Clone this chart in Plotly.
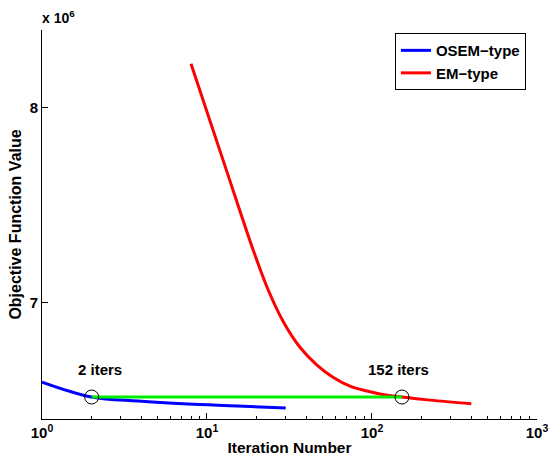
import plotly.graph_objects as go

# Data (objective values in units of 1e6)
osem_iter = [1, 2, 3.82, 7.67, 15.4, 30]
osem_val = [6.59, 6.513, 6.492, 6.477, 6.467, 6.456]

em_iter = [8, 13.2, 19, 23.4, 28.9, 36.6, 46.4, 58, 73.6, 93.3, 116.6, 152, 225, 400]
em_val = [8.226, 7.672, 7.272, 7.067, 6.903, 6.769, 6.677, 6.615, 6.569, 6.544, 6.526, 6.513, 6.497, 6.479]

match_iter = [2, 152]
match_val = [6.513, 6.513]

x_tickvals = [1, 10, 100, 1000]
x_ticktext = ["10<sup>0</sup>", "10<sup>1</sup>", "10<sup>2</sup>", "10<sup>3</sup>"]
x_minor_vals = [2, 3, 4, 5, 6, 7, 8, 9, 20, 30, 40, 50, 60, 70, 80, 90,
                200, 300, 400, 500, 600, 700, 800, 900]
y_tickvals = [7, 8]
y_ticktext = ["7", "8"]

FONT = "Liberation Sans, Arial, sans-serif"

fig = go.Figure()
fig.add_trace(go.Scatter(x=osem_iter, y=osem_val, mode="lines", name="OSEM\u2212type",
                         line=dict(color="#0000ff", width=3, shape="spline")))
fig.add_trace(go.Scatter(x=em_iter, y=em_val, mode="lines", name="EM\u2212type",
                         line=dict(color="#ff0000", width=3, shape="spline")))
fig.add_trace(go.Scatter(x=match_iter, y=match_val, mode="lines", showlegend=False,
                         line=dict(color="#00ee00", width=3)))
fig.add_trace(go.Scatter(x=match_iter, y=match_val, mode="markers", showlegend=False,
                         marker=dict(symbol="circle-open", size=14, color="black",
                                     line=dict(width=1, color="black"))))
# invisible trace to activate the minor-tick overlay axis
fig.add_trace(go.Scatter(x=[1], y=[None], xaxis="x2", mode="lines", showlegend=False,
                         hoverinfo="skip"))

fig.add_annotation(x=0.352, y=6.656, xref="x", yref="y", text="2 iters", showarrow=False,
                   font=dict(family=FONT, size=15, color="black", weight="bold"))
fig.add_annotation(x=2.158, y=6.656, xref="x", yref="y", text="152 iters", showarrow=False,
                   font=dict(family=FONT, size=15, color="black", weight="bold"))
fig.add_annotation(x=-0.004, y=1.0, xref="paper", yref="paper", text="x 10<sup>6</sup>",
                   showarrow=False, xanchor="left", yanchor="bottom", yshift=2,
                   font=dict(family=FONT, size=14, color="black", weight="bold"))

fig.update_layout(
    width=548, height=462,
    margin=dict(l=42, r=11, t=30, b=43),
    paper_bgcolor="white", plot_bgcolor="white",
    font=dict(family=FONT, size=15, color="black", weight="bold"),
    legend=dict(x=0.713, y=0.992, xanchor="left", yanchor="top",
                bgcolor="white", bordercolor="black", borderwidth=1,
                font=dict(family=FONT, size=15, weight="bold"),
                tracegroupgap=0, itemwidth=30),
    xaxis=dict(type="log", range=[0, 3.0002], tickvals=x_tickvals, ticktext=x_ticktext,
               ticks="inside", ticklen=6, tickcolor="black", showline=True,
               linecolor="black", linewidth=1, showgrid=False, zeroline=False,
               automargin=False, ticklabeloverflow="allow",
               tickfont=dict(family=FONT, size=15, weight="bold"),
               title=dict(text="Iteration Number", standoff=2,
                          font=dict(family=FONT, size=15.5, weight="bold"))),
    xaxis2=dict(type="log", range=[0, 3.0002], overlaying="x", anchor="y", side="bottom",
                tickvals=x_minor_vals, ticktext=[""] * len(x_minor_vals),
                ticks="inside", ticklen=3, tickcolor="black", showline=False,
                showgrid=False, zeroline=False, automargin=False, showticklabels=False),
    yaxis=dict(range=[6.4, 8.4], tickvals=y_tickvals, ticktext=y_ticktext,
               ticks="inside", ticklen=6, tickcolor="black", showline=True,
               linecolor="black", linewidth=1, showgrid=False, zeroline=False,
               automargin=False, ticklabeloverflow="allow",
               tickfont=dict(family=FONT, size=15, weight="bold"),
               title=dict(text="Objective Function Value", standoff=4,
                          font=dict(family=FONT, size=16, weight="bold"))),
)

fig.write_html("out.html", config={"displayModeBar": False},
               post_script="document.body.style.margin='0';document.body.style.overflow='hidden';")
